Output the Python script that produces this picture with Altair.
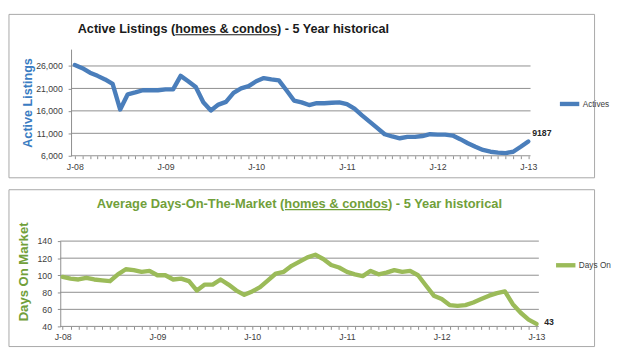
import altair as alt
import pandas as pd

# ---------------- data ----------------
months = list(range(61))  # 0 = Jan-2008 ... 60 = Jan-2013
actives = [26200, 25500, 24500, 23800, 23000, 22000, 16300, 19700, 20100, 20600,
           20600, 20600, 20800, 20800, 23800, 22600, 21300, 17900, 16100, 17400,
           18000, 20000, 21000, 21500, 22600, 23300, 23000, 22800, 20600, 18300,
           17900, 17300, 17700, 17700, 17800, 17900, 17500, 16500, 15000, 13600,
           12200, 10800, 10300, 9900, 10200, 10200, 10400, 10800, 10700, 10700,
           10500, 9700, 8800, 8000, 7300, 6900, 6700, 6600, 6900, 8000, 9187]
days_on = [98, 96, 95, 97, 95, 94, 93, 101, 107, 106,
           104, 105, 100, 100, 95, 96, 93, 82, 89, 89,
           95, 89, 82, 77, 81, 86, 94, 102, 104, 111,
           116, 121, 124, 119, 112, 109, 104, 101, 99, 105,
           101, 103, 106, 104, 105, 100, 88, 76, 72, 65,
           64, 65, 68, 72, 76, 79, 81, 66, 56, 48, 43]
top_ticks = [6000, 11000, 16000, 21000, 26000]
bot_ticks = [40, 60, 80, 100, 120, 140]
top_title = "Active Listings (homes & condos) - 5 Year historical"
bot_title = "Average Days-On-The-Market (homes & condos) - 5 Year historical"

df_top = pd.DataFrame({"m": months, "v": actives, "s": "Actives"})
df_bot = pd.DataFrame({"m": months, "v": days_on, "s": "Days On"})
grid_top = pd.DataFrame({"v": top_ticks})
grid_bot = pd.DataFrame({"v": bot_ticks})

# ---------------- layout helpers (reference pixel -> canvas) ----------------
SX = 604 / 613
SY = 340 / 351


def cx(x):
    return (x - 3) * SX


def cy(y):
    return (y - 3) * SY


# Arial/Liberation Sans Bold advance widths (em) of the title pieces
EM_PART1_TOP, EM_UL, EM_PART3 = 7.724, 8.057, 8.948
EM_PART1_BOT = 14.614

BLUE = "#4A7EBB"
BLUE_T = "#3A7CC2"
GREEN = "#9BBB59"
GREEN_T = "#71A03A"
FRAME = "#A6A6A6"
GRID = "#8C8C8C"
LBL = "#404040"
SANS = "Liberation Sans, Arial, sans-serif"
FW = round(cx(616))  # frame (and view) width

one = alt.Data(values=[{}])


def panel(df, grid_df, color, tcolor, ticks, ydom, xdom, xrange, title, tcol, tx0, tx1, em1,
          tbase, ytitle, ytfs, ytpad, yty, fy0, fy1, leg, ann_dx, ann_dy, fmt, h, oy):
    xl, xr = xrange
    x = alt.X("m:Q", scale=alt.Scale(domain=xdom, range=[xl, xr], nice=False, zero=False),
              axis=alt.Axis(values=months, grid=False, domain=False, tickSize=3, tickColor=GRID,
                            labelExpr="datum.value % 12 == 0 ? 'J-' + format(8 + datum.value / 12, '02d') : ''",
                            labelOverlap=False, labelBound=False, labelFont=SANS, labelFontSize=9,
                            labelColor=LBL, labelPadding=4, title=None))
    ykw = dict(values=ticks, format=fmt, grid=False, offset=-xl, tickSize=3, tickColor=GRID,
               domainColor=GRID, labelFont=SANS, labelFontSize=9, labelColor=LBL, labelPadding=6,
               labelOverlap=False, labelBound=False, labelFlush=False,
               title=ytitle, titleFont=SANS, titleFontSize=ytfs, titleFontWeight="bold",
               titleColor=tcolor, titlePadding=ytpad)
    if yty is not None:
        ykw["titleY"] = yty
    yscale = alt.Scale(domain=ydom, nice=False, zero=False)
    y = alt.Y("v:Q", scale=yscale, axis=alt.Axis(**ykw))

    frame_mark = alt.Chart(one).mark_rect(filled=False, stroke=FRAME, strokeWidth=1).encode(
        x=alt.value(0), x2=alt.value(FW), y=alt.value(fy0 - oy), y2=alt.value(fy1 - oy))

    grid = alt.Chart(grid_df).mark_rule(color=GRID, strokeWidth=1).encode(
        y=y, x=alt.value(xl), x2=alt.value(xr))

    line = alt.Chart(df).mark_line(strokeWidth=4.5, strokeJoin="round", strokeCap="round").encode(
        x=x, y=y,
        color=alt.Color("s:N", scale=alt.Scale(domain=[df["s"].iloc[0]], range=[color]),
                        legend=alt.Legend(title=None, orient="none", legendX=leg[0], legendY=leg[1] - oy,
                                          offset=0, padding=0, symbolType="stroke", symbolSize=400,
                                          symbolStrokeWidth=4.5, labelFont=SANS, labelFontSize=8.5,
                                          labelColor=LBL, labelOffset=1)))

    ann = alt.Chart(df.iloc[[-1]]).mark_text(align="left", baseline="middle", dx=ann_dx, dy=ann_dy,
                                            font=SANS, fontSize=9, fontWeight="bold",
                                            color="#262626").encode(
        x=x, y=y, text=alt.Text("v:Q", format="d"))

    fsize = (tx1 - tx0) / (em1 + EM_UL + EM_PART3)
    ttl = alt.Chart(one).mark_text(align="left", baseline="alphabetic", font=SANS, fontSize=fsize,
                                   fontWeight="bold", color=tcol).encode(
        x=alt.value(tx0), y=alt.value(tbase - oy), text=alt.value(title))
    ul = alt.Chart(one).mark_rule(color=tcol, strokeWidth=1.2).encode(
        x=alt.value(tx0 + em1 * fsize), x2=alt.value(tx0 + (em1 + EM_UL) * fsize),
        y=alt.value(tbase - oy + 1.6))
    return alt.layer(frame_mark, grid, line, ann, ttl, ul).properties(width=FW, height=h)


# top panel geometry (reference pixels converted to canvas pixels)
toy = cy(40)
top = panel(df_top, grid_top, BLUE, BLUE_T, top_ticks, [6000, 29750], [-0.5, 60.3],
            [cx(68), cx(549)], top_title, "#1A1A1A", cx(75), cx(402), EM_PART1_TOP, cy(23),
            "Active Listings", 13, 1.5, None, 0, cy(177), (cx(565) + 12, cy(102) - 16), 4, -9, ",d",
            round(cy(154) - toy), toy)

boy = cy(241.7)
bot = panel(df_bot, grid_bot, GREEN, GREEN_T, bot_ticks, [40, 140], [-0.3, 60.3],
            [cx(56.7), cx(557.7)], bot_title, GREEN_T, cx(95), cx(521), EM_PART1_BOT, cy(206.5),
            "Days On Market", 13.5, 6.3, cy(274) - boy, cy(187), cy(354), (cx(562) + 11, cy(269) - 14),
            8, -2, "d", round(cy(332.3) - boy), boy)

chart = alt.vconcat(top, bot, spacing=round(cy(187) - cy(177))).resolve_scale(
    color="independent").resolve_legend(color="independent").properties(
    padding=0, background="white").configure_view(stroke=None)

chart.save("out.html", embed_options={"renderer": "svg", "actions": False})
